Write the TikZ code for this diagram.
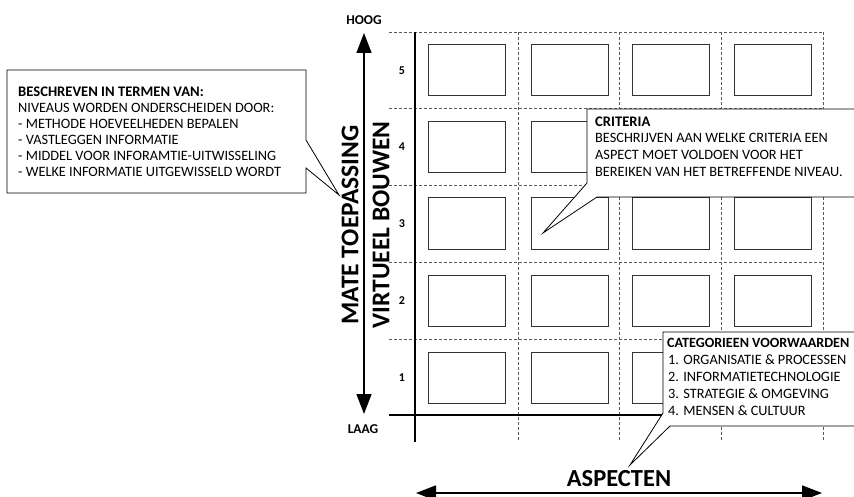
\documentclass[tikz,border=0pt]{standalone}
\usepackage{fontspec}
\setmainfont{Carlito}
\usetikzlibrary{arrows.meta}
\begin{document}
\begin{tikzpicture}[x=1pt,y=-1pt,
  gridline/.style={draw=black!65, line width=0.8pt, dash pattern=on 3pt off 2pt},
  axisline/.style={draw=black, line width=1.8pt},
  cellbox/.style={draw=black!80, line width=1pt},
  callout/.style={draw=black, fill=white, line width=0.8pt},
  txt/.style={font=\fontsize{14.3}{16}\selectfont, anchor=west, inner sep=0pt},
  btxt/.style={font=\bfseries\fontsize{14.6}{16}\selectfont, anchor=west, inner sep=0pt},
  rowlab/.style={font=\bfseries\fontsize{12}{14}\selectfont, inner sep=0pt},
  endlab/.style={font=\bfseries\fontsize{13.5}{15}\selectfont, inner sep=0pt},
  bigtxt/.style={font=\bfseries\fontsize{25.5}{28}\selectfont, inner sep=0pt},
  bigarrow/.style={draw=black, line width=1.6pt, {Triangle[width=15pt,length=20pt]}-{Triangle[width=15pt,length=20pt]}}
]
\useasboundingbox (0,0) rectangle (854,497);
\clip (0,0) rectangle (854,497);

% grid dashed lines
\foreach \yy in {32,108.5,185,262,339}
  \draw[gridline] (389,\yy) -- (823,\yy);
\foreach \xx in {518,619,721,823}
  \draw[gridline] (\xx,32) -- (\xx,442);

% cell boxes
\foreach \xx in {415,518,619,721}
  \foreach \yy in {32,108.5,185,262,339}
    \draw[cellbox] (\xx+13,\yy+13) rectangle (\xx+90,\yy+64);

% axes
\draw[axisline] (415,32) -- (415,442);
\draw[axisline] (389,415) -- (854,415);

% row labels
\node[rowlab] (r5) at (402,71) {5};
\node[rowlab] (r4) at (402,147) {4};
\node[rowlab] (r3) at (402,224) {3};
\node[rowlab] (r2) at (402,301) {2};
\node[rowlab] (r1) at (402,378) {1};

% vertical arrow
\node[endlab] (hoog) at (364,20) {HOOG};
\node[endlab] (laag) at (363,429) {LAAG};
\coordinate (vtop) at (364,33);
\coordinate (vbot) at (364,414);
\draw[bigarrow] (vbot) -- (vtop);

% vertical texts
\node[bigtxt, rotate=90] (mate) at (350,225) {MATE TOEPASSING};
\node[bigtxt, rotate=90] (virt) at (381,225) {VIRTUEEL BOUWEN};

% horizontal arrow
\node[bigtxt, font=\bfseries\fontsize{24.5}{26}\selectfont] (asp) at (619,479) {ASPECTEN};
\coordinate (hl) at (416,493);
\coordinate (hr) at (822,493);
\draw[bigarrow] (hl) -- (hr);

% left callout
\draw[callout] (7,70) -- (306,70) -- (306,140) -- (339,195) -- (306,168) -- (306,193) -- (7,193) -- cycle;
\node[btxt] (l1) at (18,92) {BESCHREVEN IN TERMEN VAN:};
\node[txt] (l2) at (18,108) {NIVEAUS WORDEN ONDERSCHEIDEN DOOR:};
\node[txt] (l3) at (18,124) {- METHODE HOEVEELHEDEN BEPALEN};
\node[txt] (l4) at (18,140) {- VASTLEGGEN INFORMATIE};
\node[txt] (l5) at (18,156) {- MIDDEL VOOR INFORAMTIE-UITWISSELING};
\node[txt] (l6) at (18,172) {- WELKE INFORMATIE UITGEWISSELD WORDT};

% criteria callout
\draw[callout] (587,109) -- (870,109) -- (870,197) -- (597,197) -- (543,233) -- (587,183) -- cycle;
\node[btxt] (c1) at (595,122) {CRITERIA};
\node[txt] (c2) at (595,138) {BESCHRIJVEN AAN WELKE CRITERIA EEN};
\node[txt] (c3) at (595,155) {ASPECT MOET VOLDOEN VOOR HET};
\node[txt] (c4) at (595,172) {BEREIKEN VAN HET BETREFFENDE NIVEAU.};

% categories callout
\draw[callout] (663,332) -- (870,332) -- (870,426) -- (670,426) -- (630,465) -- (663,413) -- cycle;
\node[btxt, font=\bfseries\fontsize{14.1}{16}\selectfont] (k1) at (667,343) {CATEGORIEEN VOORWAARDEN};
\node[txt] (k2) at (668,360) {1. ORGANISATIE \& PROCESSEN};
\node[txt] (k3) at (668,377) {2. INFORMATIETECHNOLOGIE};
\node[txt] (k4) at (668,394) {3. STRATEGIE \& OMGEVING};
\node[txt] (k5) at (668,411) {4. MENSEN \& CULTUUR};
\end{tikzpicture}
\end{document}
